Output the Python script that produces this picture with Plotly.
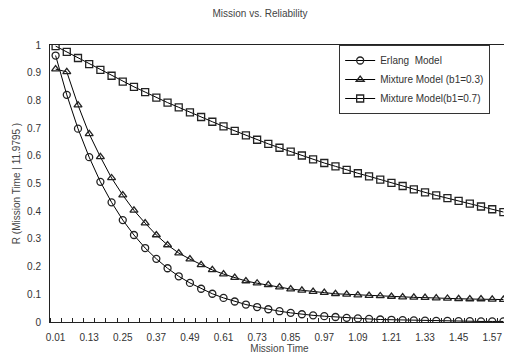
import plotly.graph_objects as go

# Mission time categories (41 points, step 0.04)
mission_time = [0.01, 0.05, 0.09, 0.13, 0.17, 0.21, 0.25, 0.29, 0.33, 0.37,
                0.41, 0.45, 0.49, 0.53, 0.57, 0.61, 0.65, 0.69, 0.73, 0.77,
                0.81, 0.85, 0.89, 0.93, 0.97, 1.01, 1.05, 1.09, 1.13, 1.17,
                1.21, 1.25, 1.29, 1.33, 1.37, 1.41, 1.45, 1.49, 1.53, 1.57, 1.61]

erlang = [0.962, 0.820, 0.698, 0.595, 0.506, 0.432, 0.368, 0.314, 0.267, 0.228,
          0.194, 0.165, 0.141, 0.120, 0.102, 0.087, 0.074, 0.063, 0.054, 0.046,
          0.039, 0.033, 0.028, 0.024, 0.021, 0.018, 0.015, 0.013, 0.011, 0.009,
          0.008, 0.007, 0.006, 0.005, 0.004, 0.004, 0.003, 0.003, 0.002, 0.002, 0.002]

mixture_b03 = [0.913, 0.903, 0.783, 0.679, 0.596, 0.520, 0.458, 0.403, 0.357, 0.314,
               0.278, 0.249, 0.227, 0.206, 0.188, 0.173, 0.160, 0.148, 0.140, 0.134,
               0.126, 0.119, 0.114, 0.110, 0.106, 0.102, 0.100, 0.097, 0.095, 0.094,
               0.092, 0.090, 0.089, 0.088, 0.086, 0.085, 0.084, 0.083, 0.083, 0.082, 0.081]

mixture_b07 = [0.996, 0.975, 0.953, 0.931, 0.910, 0.889, 0.868, 0.849, 0.830, 0.810,
               0.792, 0.775, 0.757, 0.740, 0.723, 0.706, 0.690, 0.674, 0.658, 0.643,
               0.629, 0.615, 0.601, 0.587, 0.574, 0.562, 0.549, 0.537, 0.526, 0.514,
               0.502, 0.491, 0.479, 0.468, 0.457, 0.447, 0.437, 0.427, 0.417, 0.407, 0.397]

x_tick_labels = ["0.01", "0.13", "0.25", "0.37", "0.49", "0.61", "0.73",
                 "0.85", "0.97", "1.09", "1.21", "1.33", "1.45", "1.57"]
y_tick_values = [0, 0.1, 0.2, 0.3, 0.4, 0.5, 0.6, 0.7, 0.8, 0.9, 1]
y_tick_labels = ["0", "0.1", "0.2", "0.3", "0.4", "0.5", "0.6", "0.7", "0.8", "0.9", "1"]

FONT = "Liberation Sans, Arial, sans-serif"

fig = go.Figure()
series = [
    ("Erlang  Model", erlang, "circle-open"),
    ("Mixture Model (b1=0.3)", mixture_b03, "triangle-up-open"),
    ("Mixture Model(b1=0.7)", mixture_b07, "square-open"),
]
for name, vals, sym in series:
    fig.add_trace(go.Scatter(
        x=mission_time, y=vals, name=name, mode="lines+markers",
        line=dict(color="black", width=1),
        marker=dict(symbol=sym, size=7, color="#222", line=dict(color="#222", width=1.3)),
    ))

# page body has an 8px margin, so the figure is sized 504x352 to sit in the 512x360 window
fig.update_layout(
    width=504, height=352,
    margin=dict(l=42, r=3, t=37, b=38),
    paper_bgcolor="white", plot_bgcolor="white",
    font=dict(family=FONT, size=10, color="#333"),
    title=dict(text="Mission vs. Reliability", x=0.5, xanchor="center", y=0.983, yanchor="middle",
               font=dict(size=10, color="#444")),
    showlegend=True,
    legend=dict(x=0.63, y=1.0, xanchor="left", yanchor="top",
                bgcolor="white", bordercolor="#333", borderwidth=1,
                font=dict(size=10, color="#333"), tracegroupgap=0),
)
fig.update_xaxes(
    range=[-0.01, 1.63],
    tickmode="array", tickvals=mission_time[:-1:3], ticktext=x_tick_labels,
    ticks="", showgrid=False, zeroline=False,
    showline=True, linecolor="#222", linewidth=1, mirror=True,
    minor=dict(ticks="inside", tick0=0.03, dtick=0.04, ticklen=4, tickcolor="#222", showgrid=False),
    title=dict(text="Mission Time", font=dict(size=10, color="#444"), standoff=2),
    ticklabelstandoff=6,
)
fig.update_yaxes(
    range=[0, 1],
    tickmode="array", tickvals=y_tick_values, ticktext=y_tick_labels,
    ticks="", showgrid=False, zeroline=False,
    showline=True, linecolor="#222", linewidth=1, mirror=True,
    title=dict(text="R (Mission Time | 11.9795 )", font=dict(size=10, color="#444"), standoff=4),
    ticklabelstandoff=6,
)

fig.write_html("out.html")
